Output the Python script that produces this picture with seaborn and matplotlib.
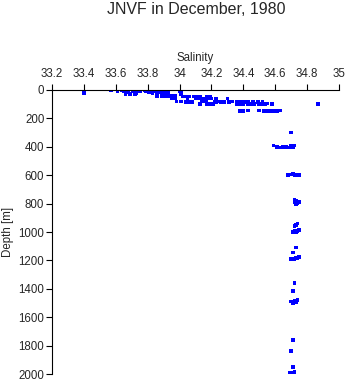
import matplotlib
matplotlib.use("Agg")
import matplotlib.pyplot as plt
import seaborn as sns
import pandas as pd

salinity = [
    33.40, 33.40, 33.40,
    33.57, 33.61, 33.64, 33.65, 33.66, 33.67, 33.68, 33.66, 33.69,
    33.71, 33.72, 33.73, 33.74, 33.75, 33.72, 33.78, 33.79,
    33.80, 33.81, 33.82, 33.83, 33.84, 33.85, 33.86, 33.87, 33.88, 33.89, 33.90, 33.91, 33.92, 33.93,
    33.86, 33.89, 33.91, 33.93, 33.95, 33.97,
    34.00, 34.01, 34.01,
    33.95, 33.97,
    33.98, 34.01,
    34.02, 34.04, 34.06, 34.09, 34.11, 34.13, 34.17, 34.19,
    34.05, 34.10, 34.12, 34.14, 34.16, 34.18, 34.20, 34.23, 34.30,
    34.14, 34.16, 34.22, 34.25, 34.28, 34.31, 34.33, 34.36, 34.38, 34.41,
    34.04, 34.06, 34.08, 34.17, 34.23, 34.26, 34.28, 34.31, 34.37, 34.39, 34.41, 34.43, 34.46, 34.49, 34.52,
    34.13, 34.17, 34.19, 34.21, 34.36, 34.38, 34.40, 34.43, 34.45, 34.47, 34.50, 34.52, 34.54, 34.55, 34.58, 34.87,
    34.38, 34.40, 34.43, 34.50, 34.53, 34.55, 34.57, 34.59, 34.61, 34.63,
    34.70,
    34.59, 34.61, 34.63, 34.65, 34.67, 34.69, 34.70, 34.71, 34.72,
    34.68, 34.70, 34.71, 34.72, 34.73, 34.74, 34.75,
    34.72, 34.73, 34.72, 34.74, 34.75, 34.73,
    34.74, 34.73, 34.72, 34.72, 34.73, 34.74, 34.75, 34.71,
    34.73, 34.71, 34.73, 34.72, 34.74, 34.75, 34.70,
    34.72, 34.71, 34.70, 34.72, 34.73, 34.74, 34.71,
    34.71, 34.70, 34.71, 34.70, 34.72, 34.69, 34.71,
]
depth = [
    0, 10, 20,
    0, 5, 0, 10, 20, 5, 15, 30, 30,
    5, 15, 25, 0, 10, 30, 0, 10,
    0, 15, 5, 20, 0, 10, 25, 5, 15, 0, 20, 10, 30, 20,
    40, 40, 40, 40, 40, 40,
    5, 15, 30,
    60, 60,
    80, 80,
    45, 45, 45, 45, 45, 45, 45, 45,
    60, 60, 60, 60, 60, 60, 60, 60, 60,
    80, 80, 80, 80, 80, 80, 80, 80, 80, 80,
    85, 85, 85, 85, 85, 85, 85, 85, 85, 85, 85, 85, 85, 85, 85,
    100, 100, 100, 100, 100, 100, 100, 100, 100, 100, 100, 100, 100, 95, 100, 100,
    150, 150, 145, 145, 150, 150, 150, 150, 150, 145,
    300,
    390, 400, 405, 400, 400, 405, 395, 400, 390,
    600, 595, 590, 600, 595, 600, 598,
    770, 780, 790, 800, 790, 805,
    940, 950, 960, 990, 1000, 995, 985, 1000,
    1110, 1145, 1180, 1190, 1185, 1175, 1190,
    1360, 1415, 1490, 1485, 1495, 1480, 1500,
    1760, 1840, 1950, 1990, 1985, 1990, 2000,
]

x_ticks = [33.2, 33.4, 33.6, 33.8, 34.0, 34.2, 34.4, 34.6, 34.8, 35.0]
x_tick_labels = ["33.2", "33.4", "33.6", "33.8", "34", "34.2", "34.4", "34.6", "34.8", "35"]
y_ticks = [0, 200, 400, 600, 800, 1000, 1200, 1400, 1600, 1800, 2000]

sns.set_style("white")
plt.rcParams['font.family'] = ['Liberation Sans', 'DejaVu Sans']

df = pd.DataFrame({"Salinity": salinity, "Depth": depth})

fig = plt.figure(figsize=(3.48, 3.84), dpi=100)
ax = fig.add_axes([52/348, 1 - 374/384, (339-52)/348, (374-90)/384])

sns.scatterplot(data=df, x="Salinity", y="Depth", ax=ax, marker="s", s=7,
                color="#0000ff", edgecolor="none", linewidth=0)

ax.set_xlim(33.2, 35.0)
ax.set_ylim(2000, 0)
ax.xaxis.tick_top()
ax.xaxis.set_label_position("top")
ax.set_xticks(x_ticks)
ax.set_xticklabels(x_tick_labels)
ax.set_yticks(y_ticks)
ax.set_yticklabels([str(v) for v in y_ticks])
ax.tick_params(axis="both", direction="out", length=4, width=0.8, labelsize=8.3,
               color="black", pad=3)
ax.tick_params(axis="y", pad=1.5)
ax.tick_params(axis="x", top=True, bottom=False)
ax.tick_params(axis="y", left=True, right=False)
for side in ["right", "bottom"]:
    ax.spines[side].set_visible(False)
for side in ["top", "left"]:
    ax.spines[side].set_visible(True)
    ax.spines[side].set_color("black")
    ax.spines[side].set_linewidth(0.8)
ax.set_xlabel("Salinity", fontsize=8.3, labelpad=5)
ax.set_ylabel("Depth [m]", fontsize=8.3)
ax.yaxis.set_label_coords(-38/287, 0.5)
ax.grid(False)

fig.text(196/348, 1 - 10/384, "JNVF in December, 1980", ha="center", va="center", fontsize=11.5)

fig.savefig("out.png", dpi=100)
